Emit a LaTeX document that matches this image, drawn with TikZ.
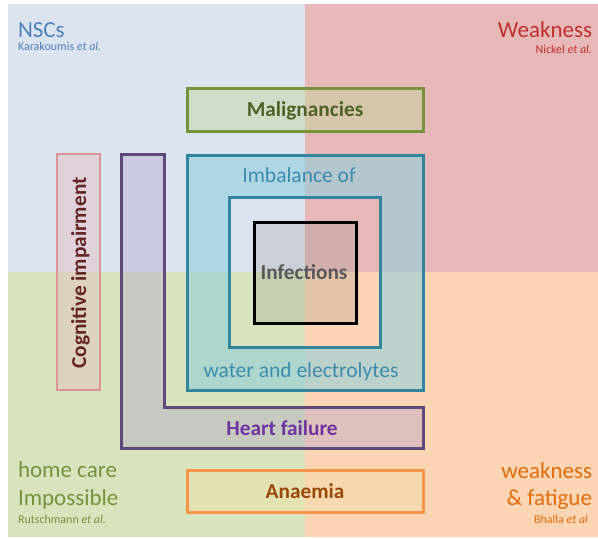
\documentclass[tikz,border=0pt]{standalone}
\usepackage{fontspec}
\setmainfont{Carlito}
\definecolor{bgTL}{HTML}{DCE4EF}
\definecolor{bgTR}{HTML}{E6B9B8}
\definecolor{bgBL}{HTML}{D7E4BD}
\definecolor{bgBR}{HTML}{FCD5B5}
\definecolor{mgreen}{HTML}{77933C}
\definecolor{mgreenT}{HTML}{4F6228}
\definecolor{mgreenF}{HTML}{C3D69B}
\definecolor{mteal}{HTML}{31859C}
\definecolor{mtealT}{HTML}{3C8DAD}
\definecolor{mtealF}{HTML}{92CDDC}
\definecolor{mpurple}{HTML}{5F497A}
\definecolor{mpurpleT}{HTML}{6E35A0}
\definecolor{mpurpleF}{HTML}{B3A2C7}
\definecolor{cogB}{HTML}{D99694}
\definecolor{cogT}{HTML}{632523}
\definecolor{cogF}{HTML}{E6B9B8}
\definecolor{anB}{HTML}{F79646}
\definecolor{anT}{HTML}{984807}
\definecolor{anF}{HTML}{F5E0A8}
\definecolor{infT}{HTML}{595959}
\definecolor{nscC}{HTML}{4F81BD}
\definecolor{weakC}{HTML}{C03030}
\definecolor{homeC}{HTML}{77933C}
\definecolor{fatC}{HTML}{E46C0A}
\begin{document}
\begin{tikzpicture}[x=1pt,y=-1pt,
  txt/.style={inner sep=0pt, outer sep=0pt},
  cornertxt/.style={txt, font=\fontsize{23}{26}\selectfont},
  midtxt/.style={txt, font=\fontsize{21.5}{24}\selectfont},
  boldtxt/.style={txt, font=\fontsize{21.3}{24}\selectfont\bfseries},
  smalltxt/.style={txt, font=\fontsize{12}{14}\selectfont},
  box/.style={inner sep=0pt, outer sep=0pt, line width=3pt}
]
\useasboundingbox (0,0) rectangle (598,539);
% background quadrants
\fill[bgTL] (8,4) rectangle (305,272);
\fill[bgTR] (305,4) rectangle (598,272);
\fill[bgBL] (8,272) rectangle (305,537);
\fill[bgBR] (305,272) rectangle (598,537);

% corner labels
\node[cornertxt, anchor=base west, text=nscC] (nsc) at (18,37) {NSCs};
\node[smalltxt, anchor=base west, text=nscC] (nscref) at (18,50) {Karakoumis \textit{et al.}};
\node[cornertxt, anchor=base east, text=weakC] (weak) at (592,37) {Weakness};
\node[smalltxt, anchor=base east, text=weakC] (weakref) at (592,53) {Nickel \textit{et al.}};
\node[cornertxt, anchor=base west, text=homeC] (home1) at (18,477) {home care};
\node[cornertxt, anchor=base west, text=homeC] (home2) at (18,505) {Impossible};
\node[smalltxt, anchor=base west, text=homeC] (homeref) at (18,523) {Rutschmann \textit{et al.}};
\node[cornertxt, anchor=base east, text=fatC] (fat1) at (592,478) {weakness};
\node[cornertxt, anchor=base east, text=fatC] (fat2) at (592,505) {\& fatigue};
\node[smalltxt, anchor=base east, text=fatC] (fatref) at (588,523) {Bhalla \textit{et al}};

% Malignancies
\node[box, draw=mgreen, fill=mgreenF, fill opacity=0.45, minimum width=236pt, minimum height=43pt] (malig) at (305,109.5) {};
\node[boldtxt, anchor=base, text=mgreenT] (maligt) at (305,116) {Malignancies};

% Imbalance ring
\fill[mtealF, opacity=0.6, even odd rule] (187,155) rectangle (423,390) (229,197) rectangle (380,347);
\node[box, draw=mteal, minimum width=236pt, minimum height=235pt] (imbout) at (305,272.5) {};
\node[box, draw=mteal, minimum width=151pt, minimum height=150pt] (imbin) at (304.5,272) {};
\node[midtxt, anchor=base, text=mtealT] (imbt) at (299,182) {Imbalance of};
\node[midtxt, anchor=base, text=mtealT] (watert) at (301,377) {water and electrolytes};

% Infections
\node[box, draw=black, fill=gray, fill opacity=0.2, minimum width=102pt, minimum height=101pt] (inf) at (305,272.5) {};
\node[boldtxt, anchor=base, text=infT] (inft) at (304,279) {Infections};

% Cognitive impairment
\node[box, line width=2pt, draw=cogB, fill=cogF, fill opacity=0.4, minimum width=43pt, minimum height=236pt] (cog) at (78.5,272) {};
\node[boldtxt, anchor=base, rotate=90, text=cogT] (cogt) at (86,273) {Cognitive impairment};

% Heart failure L shape
\filldraw[line width=3pt, draw=mpurple, fill=mpurpleF, fill opacity=0.4, line join=miter]
  (121,154) -- (164,154) -- (164,407) -- (423,407) -- (423,448) -- (121,448) -- cycle;
\node[boldtxt, anchor=base, text=mpurpleT] (heartt) at (282,435) {Heart failure};

% Anaemia
\node[box, draw=anB, fill=anF, fill opacity=0.45, minimum width=236pt, minimum height=42pt] (anae) at (305,491) {};
\node[boldtxt, anchor=base, text=anT] (anaet) at (305,498) {Anaemia};
\end{tikzpicture}
\end{document}
